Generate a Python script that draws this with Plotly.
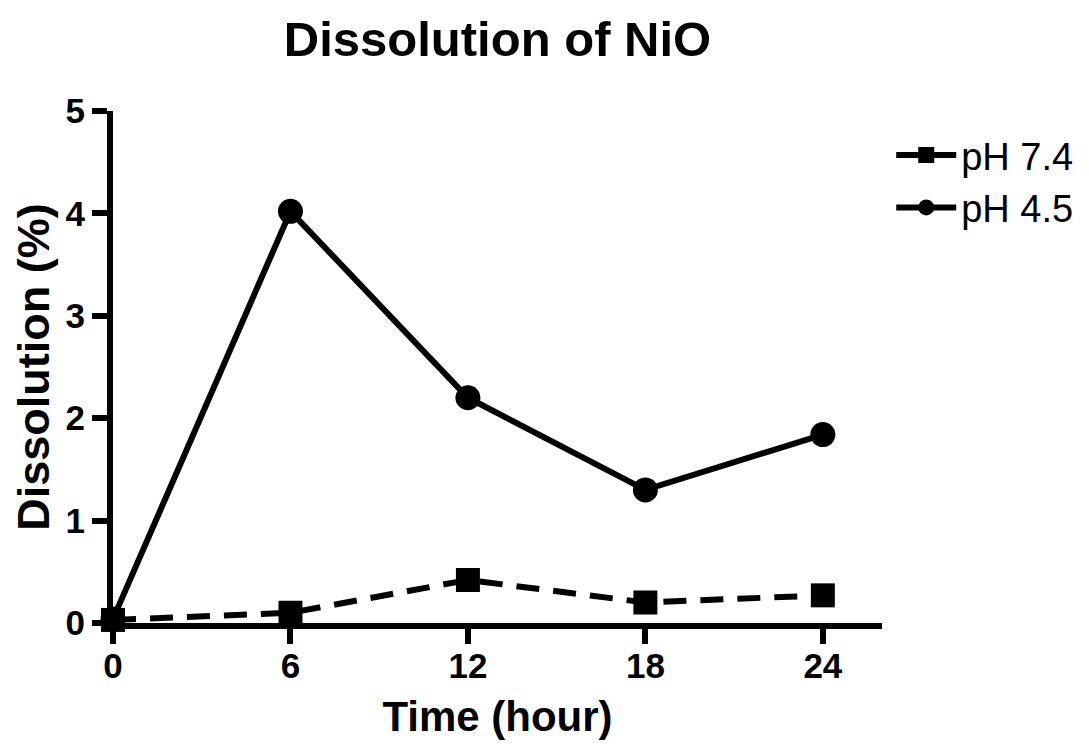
import plotly.graph_objects as go

time_h = [0, 6, 12, 18, 24]
ph74 = [0.03, 0.10, 0.42, 0.20, 0.27]
ph45 = [0.04, 4.02, 2.20, 1.30, 1.84]
x_ticks = [0, 6, 12, 18, 24]
y_ticks = [0, 1, 2, 3, 4, 5]

FONT = "Liberation Sans, Arial, sans-serif"

fig = go.Figure()
fig.add_trace(go.Scatter(
    x=time_h, y=ph74, name="pH 7.4", mode="lines+markers",
    line=dict(color="black", width=6, dash="23px,14px"),
    marker=dict(symbol="square", size=24, color="black"),
    cliponaxis=False, legendgroup="a",
))
fig.add_trace(go.Scatter(
    x=time_h, y=ph45, name="pH 4.5", mode="lines+markers",
    line=dict(color="black", width=6),
    marker=dict(symbol="circle", size=25, color="black"),
    cliponaxis=False, legendgroup="b",
))

tick_font = dict(size=35, family=FONT, color="black", weight="bold")

fig.update_layout(
    width=1089, height=744,
    margin=dict(l=103, r=215, t=103, b=129),
    paper_bgcolor="white", plot_bgcolor="white",
    font=dict(family=FONT, color="black"),
    title=dict(text="Dissolution of NiO", x=0.5, xref="paper",
               y=1 - 31 / 744, yanchor="middle",
               font=dict(size=49, family=FONT, color="black", weight="bold")),
    showlegend=True,
    legend=dict(x=1.012, xanchor="left", y=0.975, yanchor="top",
                xref="paper", yref="paper",
                font=dict(size=38, family=FONT, color="black"),
                bgcolor="rgba(0,0,0,0)", itemwidth=60,
                tracegroupgap=0),
    xaxis=dict(
        range=[0, 26], tickvals=x_ticks, ticktext=[str(v) for v in x_ticks],
        showgrid=False, zeroline=False, showline=True, linecolor="black", linewidth=6,
        ticks="outside", ticklen=15, tickwidth=6, tickcolor="black",
        tickfont=tick_font, ticklabelstandoff=-8,
        title=dict(text="Time (hour)", standoff=20,
                   font=dict(size=42, family=FONT, color="black", weight="bold")),
    ),
    yaxis=dict(
        range=[0, 5], tickvals=y_ticks, ticktext=[str(v) for v in y_ticks],
        showgrid=False, zeroline=False, showline=True, linecolor="black", linewidth=6,
        ticks="outside", ticklen=15, tickwidth=6, tickcolor="black",
        tickfont=tick_font,
        title=dict(text="Dissolution (%)", standoff=14,
                   font=dict(size=45, family=FONT, color="black", weight="bold")),
    ),
)

fig.write_html("out.html")
